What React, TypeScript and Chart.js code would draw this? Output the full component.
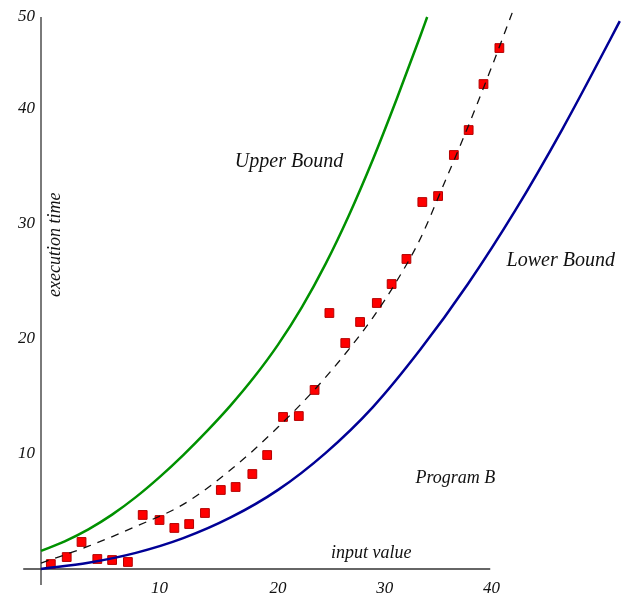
import React, { useEffect, useRef } from "react";
import { Chart, registerables } from "chart.js";

Chart.register(...registerables);

// ---- data ----
const programX = [0.83, 2.17, 3.42, 4.75, 6.0, 7.33, 8.58, 10.0, 11.25, 12.5, 13.83, 15.17, 16.42, 17.83, 19.08, 20.42, 21.75, 23.08, 24.33, 25.67, 26.92, 28.33, 29.58, 30.83, 32.17, 33.5, 34.83, 36.08, 37.33, 38.67];
const programY = [0.43, 1.04, 2.35, 0.87, 0.78, 0.61, 4.7, 4.26, 3.57, 3.91, 4.87, 6.87, 7.13, 8.26, 9.91, 13.22, 13.3, 15.57, 22.26, 19.65, 21.48, 23.13, 24.78, 26.96, 31.91, 32.43, 36.0, 38.17, 42.17, 45.3];

const upperX = [0, 2, 4, 6, 8, 10, 12, 14, 16, 18, 20, 22, 24, 26, 28, 30, 32, 32.58];
const upperY = [1.57, 2.41, 3.45, 4.73, 6.25, 7.99, 9.91, 11.99, 14.23, 16.71, 19.51, 22.75, 26.51, 30.81, 35.61, 40.85, 46.35, 48.0];

const lowerX = [0, 4, 8, 12, 16, 20, 24, 28, 32, 36, 40, 44, 48, 48.83];
const lowerY = [0, 0.54, 1.4, 2.68, 4.48, 6.88, 10.08, 14.08, 19.08, 24.76, 31.16, 38.28, 46.0, 47.64];

const fitX = [0, 4, 8, 12, 16, 20, 24, 28, 30, 32, 34, 36, 38, 39.75];
const fitY = [0.52, 1.98, 3.7, 5.62, 8.62, 12.34, 16.66, 21.86, 25.02, 28.72, 33.5, 38.4, 43.6, 48.36];

const xTickValues = [10, 20, 29, 38];
const xTickLabels = ["10", "20", "30", "40"];
const yTickValues = [10, 20, 30, 40, 48];
const yTickLabels = ["10", "20", "30", "40", "50"];

const zip = (xs: number[], ys: number[]) => xs.map((x, i) => ({ x, y: ys[i] }));

const FONT = "'Liberation Serif', 'DejaVu Serif', serif";

const decorPlugin = {
  id: "decor",
  beforeDatasetsDraw(chart: any) {
    const { ctx } = chart;
    const xs = chart.scales.x;
    const ys = chart.scales.y;
    ctx.save();
    ctx.strokeStyle = "#7a7a7a";
    ctx.lineWidth = 2;
    ctx.beginPath();
    const x0 = xs.getPixelForValue(0);
    ctx.moveTo(x0, ys.getPixelForValue(48));
    ctx.lineTo(x0, ys.getPixelForValue(-1.4));
    ctx.stroke();
    ctx.strokeStyle = "#333333";
    ctx.lineWidth = 1.5;
    ctx.beginPath();
    const y0 = ys.getPixelForValue(0);
    ctx.moveTo(xs.getPixelForValue(-1.5), y0);
    ctx.lineTo(xs.getPixelForValue(37.9), y0);
    ctx.stroke();
    ctx.restore();
  },
  afterDatasetsDraw(chart: any) {
    const { ctx } = chart;
    const xs = chart.scales.x;
    const ys = chart.scales.y;
    ctx.save();
    ctx.fillStyle = "#111111";
    ctx.textAlign = "center";
    ctx.textBaseline = "alphabetic";
    const put = (t: string, x: number, y: number, size: number) => {
      ctx.font = `italic ${size}px ${FONT}`;
      ctx.fillText(t, xs.getPixelForValue(x), ys.getPixelForValue(y));
    };
    put("Upper Bound", 20.92, 35.0, 20);
    put("Lower Bound", 43.85, 26.35, 20);
    put("Program B", 34.96, 7.48, 18);
    put("input value", 27.87, 0.95, 18);
    ctx.font = `italic 18px ${FONT}`;
    ctx.translate(xs.getPixelForValue(1.58), ys.getPixelForValue(28.2));
    ctx.rotate(-Math.PI / 2);
    ctx.fillText("execution time", 0, 0);
    ctx.restore();
  },
};

export default function App() {
  const ref = useRef<HTMLCanvasElement | null>(null);
  useEffect(() => {
    document.body.style.margin = "0";
    if (!ref.current) return;
    const chart = new Chart(ref.current, {
      type: "scatter",
      data: {
        datasets: [
          {
            label: "Upper Bound",
            data: zip(upperX, upperY),
            showLine: true,
            borderColor: "rgb(0,145,0)",
            borderWidth: 2.5,
            pointRadius: 0,
            cubicInterpolationMode: "monotone",
            clip: false,
          },
          {
            label: "Lower Bound",
            data: zip(lowerX, lowerY),
            showLine: true,
            borderColor: "rgb(0,0,150)",
            borderWidth: 2.5,
            pointRadius: 0,
            cubicInterpolationMode: "monotone",
            clip: false,
          },
          {
            label: "Fit",
            data: zip(fitX, fitY),
            showLine: true,
            borderColor: "#111111",
            borderWidth: 1.3,
            borderDash: [8, 7],
            pointRadius: 0,
            cubicInterpolationMode: "monotone",
            clip: false,
          },
          {
            label: "Program B",
            data: zip(programX, programY),
            showLine: false,
            pointStyle: "rect",
            pointRadius: 6.2,
            backgroundColor: "#ff0000",
            borderColor: "#b40000",
            borderWidth: 1,
            clip: false,
          },
        ],
      },
      options: {
        animation: false,
        responsive: false,
        events: [],
        layout: { padding: { top: 17, left: 0, right: 0, bottom: 0 } },
        plugins: { legend: { display: false }, tooltip: { enabled: false } },
        scales: {
          x: {
            type: "linear",
            min: 0,
            max: 48.83,
            grid: { display: false, drawTicks: false },
            border: { display: false },
            afterBuildTicks: (s: any) => {
              s.ticks = xTickValues.map((v) => ({ value: v }));
            },
            afterFit: (s: any) => {
              s.height = 29;
              s.paddingLeft = 0;
              s.paddingRight = 0;
            },
            ticks: {
              autoSkip: false,
              maxRotation: 0,
              padding: 9,
              color: "#111111",
              font: { family: FONT, style: "italic", size: 17 },
              callback: (_v: any, i: number) => xTickLabels[i],
            },
          },
          y: {
            type: "linear",
            min: 0,
            max: 48,
            grid: { display: false, drawTicks: false },
            border: { display: false },
            afterBuildTicks: (s: any) => {
              s.ticks = yTickValues.map((v) => ({ value: v }));
            },
            afterFit: (s: any) => {
              s.width = 41;
              s.paddingTop = 0;
              s.paddingBottom = 0;
            },
            ticks: {
              autoSkip: false,
              padding: 6,
              color: "#111111",
              font: { family: FONT, style: "italic", size: 17 },
              callback: (_v: any, i: number) => yTickLabels[i],
            },
          },
        },
      },
      plugins: [decorPlugin],
    } as any);
    return () => chart.destroy();
  }, []);
  return (
    <div style={{ width: 627, height: 598 }}>
      <canvas ref={ref} width={627} height={598} style={{ display: "block" }} />
    </div>
  );
}
